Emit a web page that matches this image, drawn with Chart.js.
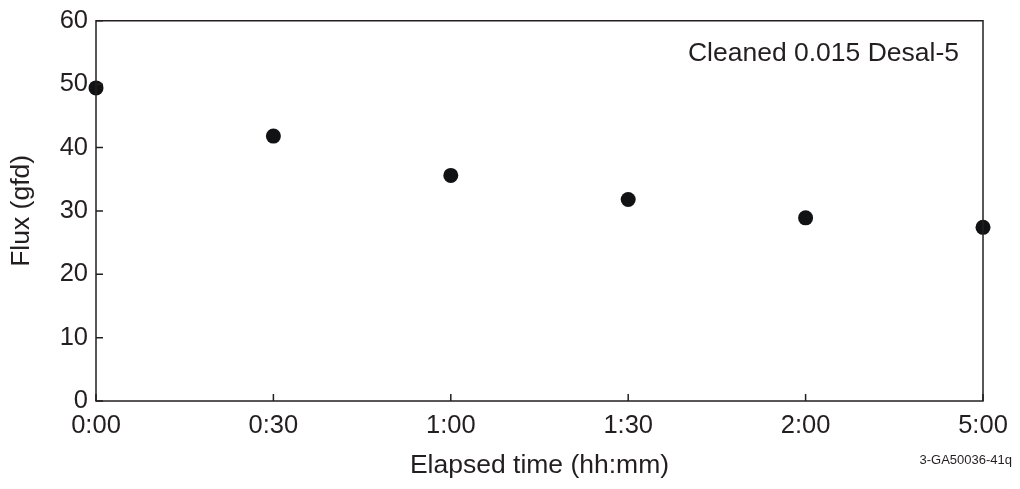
<!DOCTYPE html>
<html>
<head>
<meta charset="utf-8">
<script src="https://cdn.jsdelivr.net/npm/chart.js@4/dist/chart.umd.min.js"></script>
<style>
  html, body { margin: 0; padding: 0; background: #fff; }
  #wrap { width: 1020px; height: 489px; }
</style>
</head>
<body>
<div id="wrap"><canvas id="chart" width="1020" height="489"></canvas></div>
<script>
const times = ['0:00', '0:30', '1:00', '1:30', '2:00', '5:00'];
const flux = [49.4, 41.8, 35.6, 31.8, 28.9, 27.4];
const yTicks = [0, 10, 20, 30, 40, 50, 60];
const seriesLabel = 'Cleaned 0.015 Desal-5';
const figureId = '3-GA50036-41q';

const ink = '#231f20';
const font = 'Liberation Sans, Arial, sans-serif';

// box frame, inward tick marks and the two text notes
const framePlugin = {
  id: 'frame',
  afterDraw(chart) {
    const ctx = chart.ctx;
    const a = chart.chartArea;
    const xs = chart.scales.x;
    const ys = chart.scales.y;
    ctx.save();
    ctx.strokeStyle = ink;
    ctx.lineWidth = 1.5;
    ctx.strokeRect(a.left, a.top, a.right - a.left, a.bottom - a.top);
    ctx.beginPath();
    yTicks.forEach(v => {
      const y = ys.getPixelForValue(v);
      ctx.moveTo(a.left, y);
      ctx.lineTo(a.left + 7, y);
    });
    times.forEach((t, i) => {
      const x = xs.getPixelForValue(i);
      ctx.moveTo(x, a.bottom);
      ctx.lineTo(x, a.bottom - 7);
    });
    ctx.stroke();

    ctx.fillStyle = ink;
    ctx.textAlign = 'right';
    ctx.textBaseline = 'middle';
    ctx.font = '26.5px ' + font;
    ctx.fillText(seriesLabel, a.right - 24, a.top + 33);
    ctx.font = '13px ' + font;
    ctx.fillText(figureId, 1012, 460);
    ctx.restore();
  }
};

new Chart(document.getElementById('chart'), {
  type: 'line',
  data: {
    labels: times,
    datasets: [{
      label: seriesLabel,
      data: flux,
      showLine: false,
      clip: false,
      pointRadius: 7.5,
      pointHoverRadius: 7.5,
      pointBackgroundColor: '#111214',
      pointBorderColor: '#111214',
      pointBorderWidth: 0
    }]
  },
  options: {
    responsive: false,
    animation: false,
    layout: { padding: { top: 19, right: 37, left: 0, bottom: 0 } },
    plugins: {
      legend: { display: false },
      tooltip: { enabled: false }
    },
    scales: {
      x: {
        type: 'category',
        offset: false,
        grid: { display: false, drawTicks: false },
        border: { display: false },
        ticks: { color: ink, font: { family: font, size: 25.5 }, padding: 10, maxRotation: 0, autoSkip: false },
        title: {
          display: true,
          text: 'Elapsed time (hh:mm)',
          color: ink,
          font: { family: font, size: 26.5 },
          padding: { top: 0, bottom: 7 }
        },
        afterFit(scale) { scale.height = 88; }
      },
      y: {
        min: 0,
        max: 60,
        afterBuildTicks(scale) { scale.ticks = yTicks.map(v => ({ value: v })); },
        grid: { display: false, drawTicks: false },
        border: { display: false },
        ticks: { color: ink, font: { family: font, size: 25.5, lineHeight: 1 }, padding: 8 },
        title: {
          display: true,
          text: 'Flux (gfd)',
          color: ink,
          font: { family: font, size: 26.5 },
          padding: { top: 6, bottom: 0 }
        },
        afterFit(scale) { scale.width = 96; }
      }
    }
  },
  plugins: [framePlugin]
});
</script>
</body>
</html>
